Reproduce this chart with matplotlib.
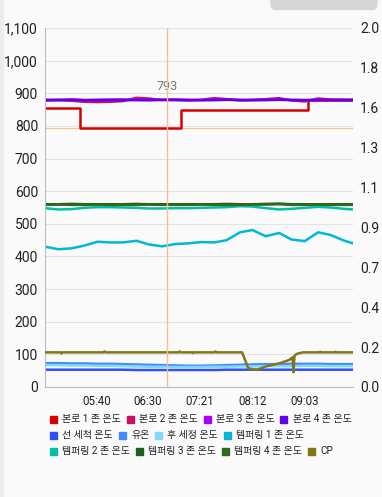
import matplotlib

matplotlib.use("Agg")
import matplotlib.pyplot as plt
from matplotlib.patches import Rectangle, FancyBboxPatch
from matplotlib.ticker import FuncFormatter

plt.rcParams['font.family'] = ['Roboto', 'Noto Sans CJK KR', 'DejaVu Sans']

W, H, DPI = 382, 497, 100
BG = "#fafafa"

# 시간축: 자정 기준 분
t_grid = [290, 303, 316, 328, 341, 354, 366, 379, 391, 404, 417, 429, 442,
          455, 467, 480, 492, 505, 518, 530, 543, 556, 568, 581, 590]
x_ticks = [340, 390, 441, 492, 543]
x_labels = ["05:40", "06:30", "07:21", "08:12", "09:03"]

# 본로 1 존 (계단형)
zone1_t = [290, 324, 422, 546, 590]
zone1_v = [855, 793, 849, 880, 880]

zone2_v = [878, 879, 877, 874, 873, 874, 876, 886, 884, 879, 880, 878, 880,
           885, 882, 878, 880, 882, 885, 878, 875, 884, 881, 880, 880]
zone3_v = [880, 880, 881, 879, 880, 880, 881, 880, 879, 880, 881, 880, 879,
           880, 881, 880, 879, 880, 881, 880, 879, 880, 880, 880, 880]
zone4_v = [879, 879, 880, 879, 879, 880, 879, 879, 879, 880, 879, 879, 879,
           879, 880, 879, 879, 879, 880, 879, 879, 879, 879, 879, 879]
prewash_v = [53, 53, 53, 53, 53, 53, 53, 52, 52, 52, 52, 52, 52,
             52, 53, 53, 53, 53, 53, 53, 53, 53, 53, 53, 53]
oil_v = [73, 73, 72, 72, 71, 71, 70, 69, 68, 67, 66, 65, 65,
         66, 67, 68, 69, 70, 70, 71, 71, 71, 70, 70, 70]
postwash_v = [67, 67, 66, 66, 65, 65, 64, 63, 62, 62, 61, 61, 61,
              62, 62, 63, 63, 64, 64, 64, 65, 65, 64, 64, 64]
temper1_v = [430, 422, 425, 433, 445, 443, 443, 448, 437, 431, 438, 440, 444,
             443, 450, 474, 481, 462, 472, 452, 447, 474, 466, 449, 440]
temper2_v = [548, 544, 545, 549, 551, 551, 550, 549, 547, 547, 548, 548, 549,
             550, 551, 554, 553, 548, 544, 546, 549, 552, 550, 546, 544]
temper3_v = [560, 560, 561, 560, 560, 560, 560, 561, 560, 560, 560, 560, 560,
             560, 561, 560, 560, 561, 562, 560, 560, 560, 560, 560, 560]
temper4_v = [558, 559, 558, 558, 559, 558, 558, 558, 559, 558, 558, 558, 559,
             558, 558, 558, 559, 559, 560, 558, 558, 559, 558, 558, 558]

# CP (오른쪽 축)
cp_t = [290, 305, 306, 307, 347, 348, 349, 420, 421, 422, 433, 434, 435, 455,
        456, 457, 482, 488, 496, 506, 519, 528, 531, 532, 533, 535, 541, 557,
        558, 559, 572, 573, 574, 590]
cp_v = [0.193, 0.193, 0.187, 0.193, 0.193, 0.198, 0.193, 0.193, 0.198, 0.193,
        0.193, 0.189, 0.193, 0.193, 0.198, 0.193, 0.193, 0.104, 0.095, 0.116,
        0.133, 0.151, 0.165, 0.082, 0.173, 0.184, 0.193, 0.193, 0.196, 0.193,
        0.193, 0.196, 0.193, 0.193]

names = ["본로 1 존 온도", "본로 2 존 온도", "본로 3 존 온도", "본로 4 존 온도",
         "선 세척 온도", "유온", "후 세정 온도", "템퍼링 1 존 온도",
         "템퍼링 2 존 온도", "템퍼링 3 존 온도", "템퍼링 4 존 온도", "CP"]
colors = ["#d50000", "#c51162", "#aa00ff", "#6200ea", "#304ffe", "#448aff",
          "#80d8ff", "#00b8d4", "#00bfa5", "#1b5e20", "#33691e", "#827717"]

highlight_t, highlight_v = 409, 793

fig = plt.figure(figsize=(W / DPI, H / DPI), dpi=DPI, facecolor=BG)
# 스크린샷 테두리 요소
fig.patches.append(Rectangle((0, 0), 3 / W, 1, transform=fig.transFigure,
                             color="#ececec", zorder=0))
fig.patches.append(FancyBboxPatch((271 / W, 1 - 9.5 / H), 106 / W, 20 / H,
                                  boxstyle="round,pad=0,rounding_size=0.012",
                                  transform=fig.transFigure, color="#d7d7d7",
                                  zorder=0, clip_on=False))

ax = fig.add_axes([45 / W, 1 - 387 / H, 308 / W, 359 / H])
ax.set_facecolor(BG)
ax2 = ax.twinx()

lw = 1.8
ax.plot(zone1_t, zone1_v, color=colors[0], lw=lw, drawstyle="steps-post")
series = [zone2_v, zone3_v, zone4_v, prewash_v, oil_v, postwash_v,
          temper1_v, temper2_v, temper3_v, temper4_v]
for vals, c in zip(series, colors[1:11]):
    ax.plot(t_grid, vals, color=c, lw=lw)
ax2.plot(cp_t, cp_v, color=colors[11], lw=lw)

ax.set_xlim(290, 590)
ax.set_ylim(0, 1100)
ax.set_yticks(range(0, 1101, 100))
ax.yaxis.set_major_formatter(FuncFormatter(lambda v, p: f"{int(v):,}"))
ax.set_xticks(x_ticks)
ax.set_xticklabels(x_labels)
ax.tick_params(axis="y", length=0, pad=5, labelsize=10, colors="#222222")
ax.tick_params(axis="x", length=0, pad=6, labelsize=8.3, colors="#222222")
ax.grid(axis="y", color="#e3e3e3", lw=0.8)
ax.set_axisbelow(True)
for s in ["top", "right"]:
    ax.spines[s].set_visible(False)
for s in ["left", "bottom"]:
    ax.spines[s].set_color("#bdbdbd")
    ax.spines[s].set_linewidth(0.8)

ax2.set_ylim(0, 2.0)
rt = [2.0 * k / 9 for k in range(10)]
ax2.set_yticks(rt)
ax2.set_yticklabels([f"{v:.1f}" for v in rt])
ax2.tick_params(axis="y", length=0, pad=5, labelsize=10, colors="#222222")
for s in ax2.spines.values():
    s.set_visible(False)

# 하이라이트 십자선
hc = "#f7bf8c"
ax2.axvline(highlight_t, color=hc, lw=1.0, zorder=5, snap=True)
ax.axhline(highlight_v, color=hc, lw=0.8, zorder=1)
ax2.text(highlight_t, 1 - (87 - 28) / 359, f"{highlight_v}",
         transform=ax2.get_xaxis_transform(), ha="center", va="center",
         fontsize=9, color="#777777")

# 범례 (줄바꿈 흐름 배치)
renderer = fig.canvas.get_renderer()
rows = [names[0:4], names[4:8], names[8:12]]
row_y = [419, 435, 451]
k = 0
for row, yp in zip(rows, row_y):
    x = 50
    for name in row:
        fig.patches.append(Rectangle((x / W, 1 - (yp + 3.5) / H), 7 / W, 7 / H,
                                     transform=fig.transFigure,
                                     color=colors[k]))
        txt = fig.text((x + 12.5) / W, 1 - yp / H, name, fontsize=7.2,
                       color="#222222", va="center", ha="left")
        bb = txt.get_window_extent(renderer)
        x = bb.x1 + 5.5
        k += 1

fig.savefig("out.png", dpi=DPI, facecolor=BG)
